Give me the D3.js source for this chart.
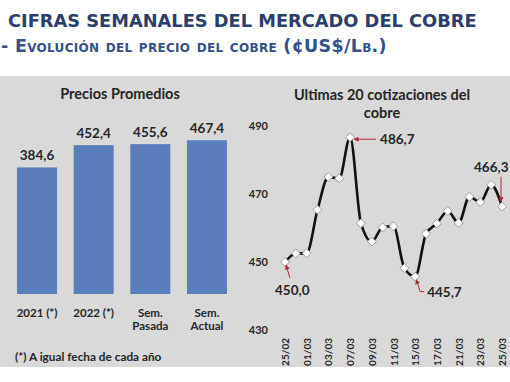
<!DOCTYPE html>
<html>
<head>
<meta charset="utf-8">
<script src="https://cdn.jsdelivr.net/npm/d3@7.9.0/dist/d3.min.js"></script>
<style>
  body { margin: 0; background: #fff; }
  svg { display: block; }
  text { font-family: Lato, "Open Sans", sans-serif; font-weight: bold; fill: #262626; }
</style>
</head>
<body>
<svg id="chart" width="510" height="382"></svg>
<script>
// bar chart data (precios promedios)
const barCats = [["2021 (*)"], ["2022 (*)"], ["Sem.", "Pasada"], ["Sem.", "Actual"]];
const barVals = [384.6, 452.4, 455.6, 467.4];

// last quotes
const dates = ["25/02", "28/02", "01/03", "02/03", "03/03", "04/03", "07/03", "08/03", "09/03", "10/03", "11/03",
               "14/03", "15/03", "16/03", "17/03", "18/03", "21/03", "22/03", "23/03", "24/03", "25/03"];
const prices = [450.0, 452.5, 452.6, 465.4, 475.0, 474.6, 486.7, 461.4, 456.0, 460.2, 460.5,
                448.2, 445.7, 458.3, 461.3, 465.0, 461.5, 469.2, 467.6, 472.7, 466.3];
const yTicks = [430, 450, 470, 490];

// annotated points
const notes = [
  { i: 0, label: "450,0" },
  { i: 6, label: "486,7" },
  { i: 12, label: "445,7" },
  { i: 20, label: "466,3" }
];

const svg = d3.select('#chart');

// header
svg.append('text')
  .attr('x', 8).attr('y', 27)
  .style('font-family', '"DejaVu Sans", Verdana, sans-serif')
  .style('font-size', '17.8px')
  .style('fill', '#2c3e6c')
  .text('CIFRAS SEMANALES DEL MERCADO DEL COBRE');

svg.append('text')
  .attr('x', 1).attr('y', 52)
  .style('font-family', '"DejaVu Sans", Verdana, sans-serif')
  .style('font-size', '17.5px')
  .style('font-variant', 'small-caps')
  .style('letter-spacing', '0.3px')
  .style('fill', '#34508a')
  .text('- Evolución del precio del cobre (¢US$/Lb.)');

// gray panel
svg.append('rect')
  .attr('x', 0).attr('y', 76).attr('width', 510).attr('height', 291)
  .attr('fill', '#d9d9d9');

/* ---- left: bars ---- */
let xBar = d3.scaleBand()
  .domain(d3.range(barVals.length))
  .range([8.7, 235.3])
  .paddingInner(0.294)
  .paddingOuter(0.147);
let yBar = d3.scaleLinear().domain([0, 500]).range([294, 129.5]);

svg.append('text')
  .attr('x', 120).attr('y', 99)
  .attr('text-anchor', 'middle')
  .style('font-size', '14.5px')
  .text('Precios Promedios');

let bars = svg.append('g');
bars.selectAll('rect')
  .data(barVals)
  .join('rect')
  .attr('x', (d, i) => xBar(i))
  .attr('y', d => yBar(d))
  .attr('width', xBar.bandwidth())
  .attr('height', d => yBar(0) - yBar(d))
  .attr('fill', '#5a7ebb');

bars.selectAll('text.val')
  .data(barVals)
  .join('text')
  .attr('class', 'val')
  .attr('x', (d, i) => xBar(i) + xBar.bandwidth() / 2)
  .attr('y', d => yBar(d) - 7)
  .attr('text-anchor', 'middle')
  .style('font-size', '13.5px')
  .text(d => d3.format('.1f')(d).replace('.', ','));

barCats.forEach((lines, i) => {
  let t = bars.append('text')
    .attr('x', xBar(i) + xBar.bandwidth() / 2)
    .attr('y', 317)
    .attr('text-anchor', 'middle')
    .style('font-size', '11.5px');
  lines.forEach((l, k) => {
    t.append('tspan')
      .attr('x', xBar(i) + xBar.bandwidth() / 2)
      .attr('dy', k === 0 ? 0 : 13)
      .text(l);
  });
});

svg.append('text')
  .attr('x', 15).attr('y', 361)
  .style('font-size', '11.8px')
  .text('(*) A igual fecha de cada año');

/* ---- right: line ---- */
let x = d3.scalePoint().domain(dates).range([285, 502]);
let y = d3.scaleLinear().domain([430, 490]).range([330, 126]);

let title = svg.append('text')
  .attr('x', 382).attr('y', 100)
  .attr('text-anchor', 'middle')
  .style('font-size', '14.5px');
title.append('tspan').attr('x', 382).text('Ultimas 20 cotizaciones del');
title.append('tspan').attr('x', 382).attr('dy', 18).text('cobre');

// y axis labels only (no lines)
let yAxis = svg.append('g')
  .attr('transform', 'translate(268,0)')
  .call(d3.axisLeft(y).tickValues(yTicks).tickSize(0).tickPadding(0).tickFormat(d3.format('d')));
yAxis.select('.domain').remove();
yAxis.selectAll('text')
  .style('font-family', 'Lato, sans-serif')
  .style('font-weight', 'bold')
  .style('font-size', '11px')
  .attr('fill', '#262626');

// x axis labels, every other date
let xAxis = svg.append('g')
  .attr('transform', 'translate(0,337)')
  .call(d3.axisBottom(x).tickValues(dates.filter((d, i) => i % 2 === 0)).tickSize(0).tickPadding(0));
xAxis.select('.domain').remove();
xAxis.selectAll('text')
  .attr('transform', 'rotate(-90)')
  .attr('text-anchor', 'end')
  .attr('x', -1)
  .attr('y', 0)
  .attr('dy', '0.35em')
  .style('font-family', 'Lato, sans-serif')
  .style('font-weight', 'bold')
  .style('font-size', '10px')
  .attr('fill', '#262626');

let line = d3.line()
  .x((d, i) => x(dates[i]))
  .y(d => y(d))
  .curve(d3.curveMonotoneX);

svg.append('path')
  .datum(prices)
  .attr('d', line)
  .attr('fill', 'none')
  .attr('stroke', '#111')
  .attr('stroke-width', 2.6);

let diamond = d3.symbol(d3.symbolSquare, 40);
svg.append('g').selectAll('path')
  .data(prices)
  .join('path')
  .attr('d', diamond)
  .attr('transform', (d, i) => `translate(${x(dates[i])},${y(d)}) rotate(45)`)
  .attr('fill', '#fff')
  .attr('stroke', '#8c8c8c')
  .attr('stroke-width', 0.8);

// annotations
const red = '#b02a35';
svg.append('defs').append('marker')
  .attr('id', 'arrow')
  .attr('viewBox', '0 0 10 10')
  .attr('refX', 9).attr('refY', 5)
  .attr('markerWidth', 5).attr('markerHeight', 5)
  .attr('orient', 'auto')
  .append('path')
  .attr('d', 'M0,0 L10,5 L0,10 z')
  .attr('fill', red);

let ann = svg.append('g');
notes.forEach(n => {
  let px = x(dates[n.i]), py = y(prices[n.i]);
  let pts, lx, ly;
  if (n.i === 0) {
    pts = [[px + 5, py + 16], [px + 1, py + 3]];
    lx = px - 10; ly = py + 33;
  } else if (n.i === 6) {
    pts = [[px + 26, py + 2], [px + 4, py + 2]];
    lx = px + 30; ly = py + 7;
  } else if (n.i === 12) {
    pts = [[px + 9, py + 15], [px + 5, py + 15], [px + 1, py + 3]];
    lx = px + 12; ly = py + 20;
  } else {
    pts = [[px - 1, py - 30], [px - 1, py - 5]];
    lx = px - 28; ly = py - 35;
  }
  ann.append('path')
    .attr('d', d3.line()(pts))
    .attr('fill', 'none')
    .attr('stroke', red)
    .attr('stroke-width', 1)
    .attr('marker-end', 'url(#arrow)');
  ann.append('text')
    .attr('x', lx).attr('y', ly)
    .style('font-size', '13.5px')
    .text(n.label);
});
</script>
</body>
</html>
